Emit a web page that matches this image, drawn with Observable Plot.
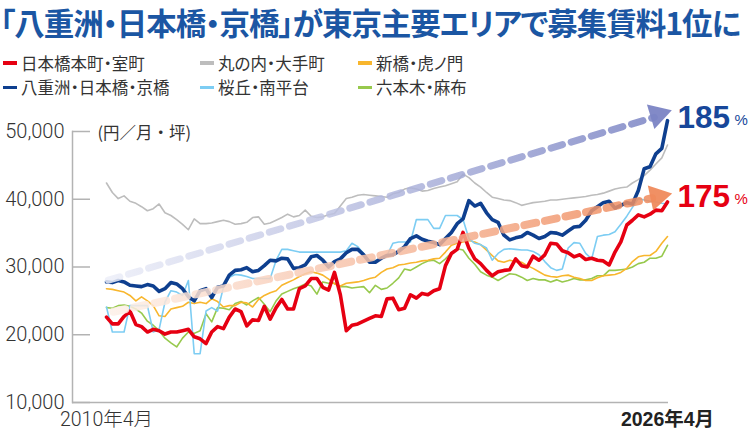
<!DOCTYPE html>
<html><head><meta charset="utf-8">
<script src="https://cdn.jsdelivr.net/npm/d3@7"></script>
<script src="https://cdn.jsdelivr.net/npm/@observablehq/plot@0.6"></script>
<style>
body{margin:0;background:#fff;}
#wrap{position:relative;width:750px;height:437px;overflow:hidden;font-family:"Noto Sans CJK JP",sans-serif;}
#title{position:absolute;left:0;top:0;font-size:30.5px;line-height:normal;font-weight:700;color:#1b56a3;white-space:nowrap;font-feature-settings:"palt";}
#legend{position:absolute;left:0;top:50.5px;display:grid;grid-template-columns:197px 158px 160px;}
.item{display:flex;align-items:center;height:24.5px;font-size:16.5px;color:#333;font-feature-settings:"palt";white-space:nowrap;}
.sw{width:14px;height:3.5px;margin:0 4px 0 3px;flex:none;}
#chart{position:absolute;left:0;top:95px;}
</style></head>
<body><div id="wrap"><div id="title"></div><div id="legend"></div><div id="chart"></div></div>
<script>
const titleText = "「八重洲・日本橋・京橋」が東京主要エリアで募集賃料1位に";
const unitLabel = "(円／月・坪)";
const xLabels = ["2010年4月", "2026年4月"];
const yTicks = [10000, 20000, 30000, 40000, 50000];

const names = ["日本橋本町・室町", "丸の内・大手町", "新橋・虎ノ門", "八重洲・日本橋・京橋", "桜丘・南平台", "六本木・麻布"];
const colors = ["#e60012", "#bdbdbd", "#f8b62d", "#0e3f8f", "#7dcdf3", "#97c94d"];

// bi-monthly values, 2010-04 .. 2026-04 (円/月・坪)
const nihonbashiHoncho = [22600,21600,21600,22700,23500,21500,21200,20400,20800,20600,
20100,20400,20400,20600,20800,19700,19400,18700,20400,21200,
20900,22600,23800,23400,21300,22200,22100,24200,22300,24000,
25200,23800,23800,26800,27200,28300,28300,27000,26600,29200,
25900,20600,21400,21600,22000,22400,22800,22700,25300,25400,
23700,23900,25900,25400,26100,25900,26500,26800,30200,32000,
32600,35100,32800,31200,30500,29500,28700,29300,29500,29600,
31200,30200,30000,31600,31000,31800,33500,33400,32400,32100,
31500,31800,31100,31300,31000,30900,30300,32200,33700,36200,
36900,37700,37400,37800,38400,38300,39600];
const marunouchi = [42400,41000,40100,40500,39700,39400,38900,38300,38600,39300,
38000,37600,37000,36300,35500,37100,36400,36400,36500,36700,
36900,36700,36300,36400,36600,37300,37400,36300,36500,36900,
37300,37800,37400,37600,38400,37500,37300,37400,37700,37900,
39000,40100,40300,40600,40700,40600,40500,40400,40300,40800,
41000,41500,41700,41500,41200,41300,41600,41800,42000,42300,
42600,43700,43200,42400,41800,41000,40300,40100,39900,39800,
39500,39100,39300,39500,39600,39700,39900,39900,40000,40100,
40200,40300,40400,40600,40700,40900,41200,41500,41700,41800,
42400,42900,43500,44300,45200,46100,48000];
const shimbashi = [26800,26700,26500,26300,25800,25000,25600,25000,24300,22800,
22700,23800,24000,24200,24800,24600,24800,24600,25300,24900,
24100,24300,24300,24800,24700,24100,25200,25800,26200,26500,
27300,27700,28100,28600,29000,29300,29100,28800,28200,27500,
27200,27600,27700,27800,28000,28300,28500,29200,29700,29900,
30300,30400,30600,30700,30900,31000,31200,31300,32200,33200,
33500,33700,33900,33700,33300,32500,31700,30900,30700,31000,
30800,30700,30200,29800,29300,28800,28600,28500,28700,28800,
28500,28300,28000,28000,28400,28700,28800,28900,29200,29800,
30800,31500,31700,31700,32300,33500,34500];
const yaesu = [27800,27700,28000,27800,27300,27200,27100,27400,27200,26400,
26800,27700,27500,26800,25600,25000,26500,26800,25500,27000,
27200,28800,29500,29600,29900,29300,29500,30200,31000,30900,
31300,31200,29800,29900,30300,31500,31700,31000,30000,30800,
31200,32100,32600,32600,31800,30700,30700,31300,31700,31800,
32300,33000,34200,34600,34100,33800,33600,33300,34200,35100,
36400,37100,39800,39000,39400,38000,37000,36600,34700,34000,
34300,34500,35100,34700,34200,34500,35100,35000,34700,35300,
35900,36000,36900,38300,38900,39500,39700,38700,39100,39500,
39300,41300,44500,44800,46700,47500,51600];
const sakuragaoka = [24100,20400,20400,20400,24300,24300,24300,24300,20400,20800,
24800,26500,26300,25800,28000,17200,17200,23500,24000,23500,
27000,28500,28900,28800,28600,28300,28300,28300,28300,31000,
32600,32600,32400,32200,32200,32200,32200,32200,32200,32200,
32200,32400,33500,33000,32000,31000,31000,31300,31700,33500,
33700,33700,33700,37000,37000,37000,35700,35700,37600,37600,
37600,37000,34200,33500,33300,32800,31000,32000,32600,32700,
32600,32500,32500,32300,31800,30800,29900,29500,29700,32800,
33600,33500,32000,31200,34500,34700,34800,35200,36300,37500,
38800,40100,39900,39700,39600,39400,39300];
const roppongi = [24000,23900,24300,24400,24200,23800,23200,22000,21400,20600,
19500,18800,18200,19500,20400,20200,20600,23100,21900,24000,
23900,23700,24600,24900,24400,25000,25500,24500,23400,25000,
26000,26400,26800,27100,27500,27200,26000,27800,27600,27600,
27100,27100,26900,27000,27100,26200,27300,26700,26900,27600,
28400,29700,29500,30000,30500,30900,31000,30500,31200,32100,
32700,32500,31300,30400,29300,28800,28500,28000,28500,29000,
28900,28500,28000,28300,28100,28100,27800,28100,27800,28000,
28300,28100,28100,28300,28700,28700,29500,29500,29600,29700,
30000,30500,30700,31300,31300,31600,33200];

// growth arrows (annotation)
const pctLabels = ["185", "175"];
const arrowBlue = [{date: new Date("2010-04-20"), value: 28050}, {date: new Date("2025-11-15"), value: 52100}];
const arrowRed  = [{date: new Date("2010-06-12"), value: 23400}, {date: new Date("2025-10-24"), value: 40150}];
const headBlue = [{date: new Date("2025-12-20"), value: 52500}];
const headRed  = [{date: new Date("2025-12-20"), value: 40400}];

const dates = d3.utcMonth.range(new Date(Date.UTC(2010,3,1)), new Date(Date.UTC(2026,4,1)), 2);
const seriesValues = [nihonbashiHoncho, marunouchi, shimbashi, yaesu, sakuragaoka, roppongi];
const widths = [3.6, 1.6, 1.6, 3.6, 1.6, 1.6];
const drawOrder = [1, 5, 2, 4, 0, 3];

// title: fit to width with letter-spacing
const t = document.getElementById("title");
t.textContent = titleText;
const target = 740;
const tw = t.scrollWidth;
const nChars = [...titleText].length;
if (tw > target) {
  let ls = -(tw - target) / nChars;
  if (ls < -2.5) {
    ls = -2.5;
    t.style.fontSize = (30.5 * target / (tw - 2.5 * nChars)) + "px";
  }
  t.style.letterSpacing = ls + "px";
}

// legend
const legendOrder = [0, 1, 2, 3, 4, 5];
const lg = document.getElementById("legend");
for (const i of legendOrder) {
  const it = document.createElement("div"); it.className = "item";
  const sw = document.createElement("span"); sw.className = "sw"; sw.style.background = colors[i];
  const tx = document.createElement("span"); tx.textContent = names[i];
  it.append(sw, tx); lg.append(it);
}

const lineMarks = drawOrder.map(i => Plot.line(
  dates.map((d, k) => ({date: d, value: seriesValues[i][k]})),
  {x: "date", y: "value", stroke: colors[i], strokeWidth: widths[i], strokeLinejoin: "round", strokeLinecap: "round"}
));

const last = dates.length - 1;
const numFont = "'Liberation Sans', Arial, sans-serif";
const plot = Plot.plot({
  width: 750, height: 342,
  marginTop: 36, marginBottom: 35, marginLeft: 72, marginRight: 82,
  style: {background: "transparent", overflow: "visible", fontFamily: "'Noto Sans CJK JP', sans-serif"},
  x: {type: "utc", domain: [dates[0], dates[last]], insetLeft: 34, insetRight: 1, axis: null},
  y: {domain: [10000, 50000], axis: null},
  marks: [
    Plot.ruleY([10000], {stroke: "#b3b3b3", strokeWidth: 1.5}),
    Plot.frame({anchor: "left", stroke: "#b3b3b3", strokeWidth: 1.5}),
    Plot.axisY({ticks: yTicks, tickSize: -18, tickFormat: () => "", stroke: "#b3b3b3", strokeWidth: 1.5, label: null}),
    Plot.axisY({ticks: yTicks, tickSize: 0, tickPadding: 8, tickFormat: d3.format(","), fontSize: 20, fill: "#333",
      fontFamily: "Roboto, 'Liberation Sans', sans-serif", fontWeight: 300, label: null}),
    Plot.text([unitLabel], {x: () => dates[0], y: () => 50000, text: d => d, textAnchor: "start", dx: -9, dy: 2,
      fontSize: 16.5, fill: "#333", fontFamily: "'Noto Sans CJK JP', sans-serif"}),
    Plot.text([xLabels[0]], {x: () => dates[0], text: d => d, frameAnchor: "bottom", lineAnchor: "top", dy: 10,
      fontSize: 19.5, fill: "#333", fontFamily: "Roboto, 'Noto Sans CJK JP', sans-serif", fontWeight: 300}),
    Plot.text([xLabels[1]], {x: () => dates[last], text: d => d, frameAnchor: "bottom", lineAnchor: "top", dy: 10,
      fontSize: 19.5, fill: "#222", fontFamily: "'Liberation Sans', 'Noto Sans CJK JP', sans-serif", fontWeight: 700}),
    ...lineMarks,
    Plot.line(arrowBlue, {x: "date", y: "value", stroke: "#010203", strokeWidth: 7, strokeDasharray: "12 9", strokeOpacity: 0.85}),
    Plot.dot(headBlue, {x: "date", y: "value", symbol: "triangle", r: 9.5, fill: "#7b84c4", rotate: 73, fillOpacity: 0.95}),
    Plot.line(arrowRed, {x: "date", y: "value", stroke: "#040506", strokeWidth: 8, strokeDasharray: "12 9", strokeOpacity: 0.85}),
    Plot.dot(headRed, {x: "date", y: "value", symbol: "triangle", r: 9.5, fill: "#ef8a5c", rotate: 78, fillOpacity: 0.95}),
    Plot.text([pctLabels[0]], {x: () => dates[last], y: () => yaesu[last], text: d => d, textAnchor: "start", lineAnchor: "bottom",
      dx: 10, dy: 7, fontSize: 31.5, fontWeight: 700, fill: "#17479a", fontFamily: numFont}),
    Plot.text(["%"], {x: () => dates[last], y: () => yaesu[last], text: d => d, textAnchor: "start", lineAnchor: "bottom",
      dx: 67, dy: 4, fontSize: 15, fill: "#17479a", fontFamily: numFont}),
    Plot.text([pctLabels[1]], {x: () => dates[last], y: () => nihonbashiHoncho[last], text: d => d, textAnchor: "start", lineAnchor: "bottom",
      dx: 10, dy: 5, fontSize: 31.5, fontWeight: 700, fill: "#e60012", fontFamily: numFont}),
    Plot.text(["%"], {x: () => dates[last], y: () => nihonbashiHoncho[last], text: d => d, textAnchor: "start", lineAnchor: "bottom",
      dx: 67, dy: 2, fontSize: 15, fill: "#e60012", fontFamily: numFont})
  ]
});

// gradient strokes for arrows
const ns = "http://www.w3.org/2000/svg";
const defs = document.createElementNS(ns, "defs");
function grad(id, c0, c1) {
  const g = document.createElementNS(ns, "linearGradient");
  g.setAttribute("id", id); g.setAttribute("x1", "0"); g.setAttribute("x2", "1"); g.setAttribute("y1", "0"); g.setAttribute("y2", "0");
  [[0, c0], [1, c1]].forEach(([o, c]) => {
    const s = document.createElementNS(ns, "stop"); s.setAttribute("offset", o); s.setAttribute("stop-color", c); g.append(s);
  });
  defs.append(g);
}
grad("gBlue", "#eceef8", "#7b84c4");
grad("gRed", "#fdf0e8", "#ef8a5c");
plot.prepend(defs);
plot.querySelectorAll('[stroke="#010203"]').forEach(e => e.setAttribute("stroke", "url(#gBlue)"));
plot.querySelectorAll('[stroke="#040506"]').forEach(e => e.setAttribute("stroke", "url(#gRed)"));
document.getElementById("chart").append(plot);
</script></body></html>
